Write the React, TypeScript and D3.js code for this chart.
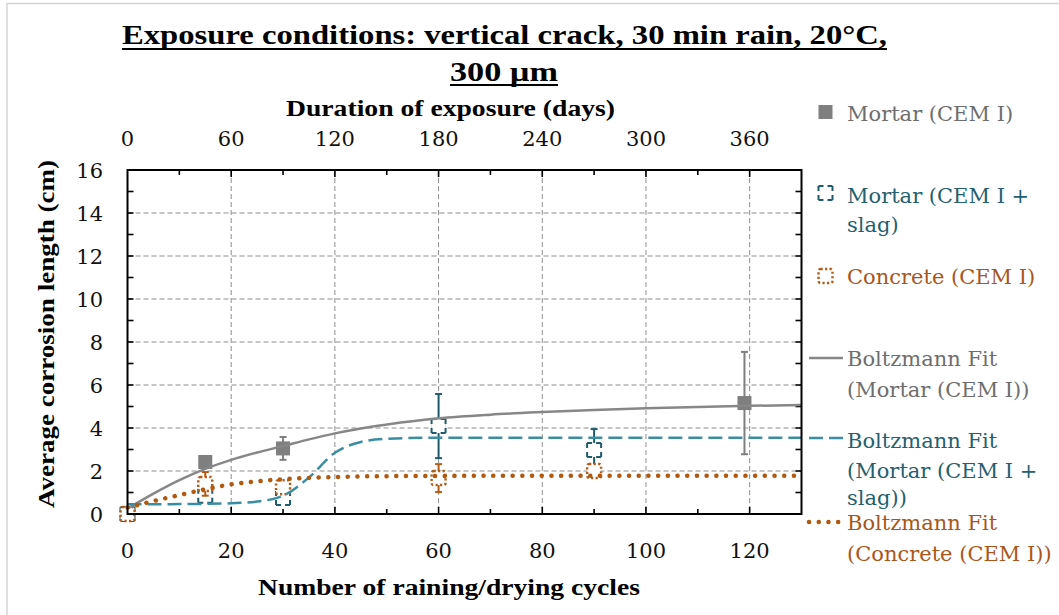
import React from "react";
import * as d3 from "d3";

// ---------- data ----------
const titleLines = ["Exposure conditions: vertical crack, 30 min rain, 20°C,", "300 µm"];
const xLabel = "Number of raining/drying cycles";
const xTopLabel = "Duration of exposure (days)";
const yLabel = "Average corrosion length (cm)";

const xTicks = [0, 20, 40, 60, 80, 100, 120];
const xTopTicks = [0, 60, 120, 180, 240, 300, 360];
const yTicks = [0, 2, 4, 6, 8, 10, 12, 14, 16];

const mortarX = [0, 15, 30, 60, 119];
const mortarY = [0, 2.42, 3.05, 4.1, 5.16];
const mortarErr = [0, 0, 0.53, 0, 2.38];

const slagX = [0, 15, 30, 60, 90];
const slagY = [0, 0.85, 0.75, 4.09, 2.98];
const slagErr = [0, 0, 0.25, 1.49, 0.97];

const concreteX = [0, 15, 30, 60, 90];
const concreteY = [0, 1.4, 1.25, 1.67, 2.0];
const concreteErr = [0, 0.55, 0, 0.65, 0];

const fitX = [0, 5, 10, 15, 20, 25, 30, 35, 40, 45, 50, 60, 70, 80, 90, 100, 110, 120, 130];
const mortarFit = [0.25, 0.95, 1.58, 2.1, 2.52, 2.86, 3.16, 3.47, 3.75, 3.98, 4.16, 4.45, 4.62, 4.74, 4.84, 4.92, 4.98, 5.03, 5.07];
const slagFit = [0.45, 0.45, 0.46, 0.47, 0.5, 0.58, 0.85, 1.7, 2.85, 3.35, 3.5, 3.55, 3.55, 3.55, 3.55, 3.55, 3.55, 3.55, 3.55];
const concreteFit = [0.3, 0.6, 0.88, 1.15, 1.38, 1.52, 1.62, 1.68, 1.72, 1.75, 1.76, 1.77, 1.78, 1.78, 1.78, 1.78, 1.78, 1.78, 1.78];

const legendMarkers = [
  { kind: "mortar", lines: ["Mortar (CEM I)"] },
  { kind: "slag", lines: ["Mortar (CEM I +", "slag)"] },
  { kind: "concrete", lines: ["Concrete (CEM I)"] },
];
const legendFits = [
  { kind: "mortar", lines: ["Boltzmann Fit", "(Mortar (CEM I))"] },
  { kind: "slag", lines: ["Boltzmann Fit", "(Mortar (CEM I +", "slag))"] },
  { kind: "concrete", lines: ["Boltzmann Fit", "(Concrete (CEM I))"] },
];

// ---------- styles ----------
const W = 1059;
const H = 615;
const C = {
  grayLine: "#878787",
  grayMarker: "#7f7f7f",
  grayText: "#6e6e6e",
  tealLine: "#3a8ea4",
  tealMarker: "#1f5b6b",
  tealText: "#25606f",
  orangeLine: "#b1590f",
  orangeMarker: "#b35c18",
  orangeText: "#a9561b",
  grid: "#8f8f8f",
};
const serifBold = "'Liberation Serif', 'Times New Roman', serif";
const serif = "'DejaVu Serif', serif";

const x = d3.scaleLinear().domain([0, 130]).range([127.5, 801.5]);
const xTop = d3.scaleLinear().domain([0, 390]).range([127.5, 801.5]);
const y = d3.scaleLinear().domain([0, 16]).range([514, 170]);

const MS = 14;

function Marker({ kind, cx, cy }: { kind: string; cx: number; cy: number }) {
  if (kind === "mortar") {
    return <rect x={cx - MS / 2} y={cy - MS / 2} width={MS} height={MS} fill={C.grayMarker} />;
  }
  if (kind === "slag") {
    return (
      <rect x={cx - MS / 2} y={cy - MS / 2} width={MS} height={MS} fill="#fff" stroke={C.tealMarker}
        strokeWidth={2} strokeDasharray="5 4 5 0" />
    );
  }
  return (
    <rect x={cx - MS / 2} y={cy - MS / 2} width={MS} height={MS} rx={2} fill="#fff" stroke={C.orangeMarker}
      strokeWidth={2.5} strokeDasharray="2.2 2.3" />
  );
}

function ErrBars({ xs, ys, es, color }: { xs: number[]; ys: number[]; es: number[]; color: string }) {
  return (
    <g stroke={color} strokeWidth={2}>
      {xs.map((xv, i) => {
        if (!es[i]) return null;
        const px = x(xv);
        const y1 = y(ys[i] + es[i]);
        const y2 = y(ys[i] - es[i]);
        return (
          <g key={i}>
            <line x1={px} x2={px} y1={y1} y2={y2} />
            <line x1={px - 3.5} x2={px + 3.5} y1={y1} y2={y1} />
            <line x1={px - 3.5} x2={px + 3.5} y1={y2} y2={y2} />
          </g>
        );
      })}
    </g>
  );
}

const lineGen = (vals: number[]) =>
  d3
    .line<number>()
    .x((_, i) => x(fitX[i]))
    .y((d) => y(d))
    .curve(d3.curveMonotoneX)(vals) || "";

const fitStyle: Record<string, any> = {
  mortar: { stroke: C.grayLine, strokeWidth: 2.5 },
  slag: { stroke: C.tealLine, strokeWidth: 2.5, strokeDasharray: "14 6" },
  concrete: { stroke: C.orangeLine, strokeWidth: 4.5, strokeDasharray: "0.1 9.6", strokeLinecap: "round" },
};
const textColor: Record<string, string> = { mortar: C.grayText, slag: C.tealText, concrete: C.orangeText };

export default function App() {
  const minorX = d3.range(10, 130, 10);
  const minorY = d3.range(1, 16, 1);
  const [x0, x1] = x.range();
  const [yb, yt] = y.range();

  const legMarkerY = [112, 193, 276];
  const legMarkerBase = [[121], [203, 232], [284]];
  const legFitY = [358, 438, 522];
  const legFitBase = [[366, 397], [448, 478, 505], [530, 561]];

  return (
    <svg width={W} height={H} style={{ position: "absolute", left: 0, top: 0, background: "#fff" }}>
      {/* outer frame */}
      <line x1={7} x2={W} y1={3.5} y2={3.5} stroke="#d4d4d4" strokeWidth={1.5} />
      <line x1={7} x2={7} y1={3} y2={H} stroke="#d4d4d4" strokeWidth={1.5} />

      {/* title */}
      <g fontFamily={serifBold} fontWeight="bold" fontSize={28} fill="#000">
        <text x={504.5} y={44} textAnchor="middle" textLength={765} lengthAdjust="spacingAndGlyphs">{titleLines[0]}</text>
        <line x1={122} x2={887} y1={49} y2={49} stroke="#000" strokeWidth={2} />
        <text x={504} y={81} textAnchor="middle" textLength={108} lengthAdjust="spacingAndGlyphs">{titleLines[1]}</text>
        <line x1={450} x2={558} y1={85} y2={85} stroke="#000" strokeWidth={2} />
      </g>

      {/* grid */}
      <g stroke={C.grid} strokeWidth={1} strokeDasharray="5 3">
        {xTicks.filter((t) => t > 0).map((t) => (
          <line key={"gx" + t} x1={x(t)} x2={x(t)} y1={yt} y2={yb} />
        ))}
        {yTicks.filter((t) => t > 0 && t < 16).map((t) => (
          <line key={"gy" + t} x1={x0} x2={x1} y1={y(t)} y2={y(t)} />
        ))}
      </g>

      {/* ticks */}
      <g stroke="#000" strokeWidth={1.6}>
        {minorX.map((t) => (
          <g key={"tx" + t}>
            <line x1={x(t)} x2={x(t)} y1={yb} y2={yb - (t % 20 === 0 ? 7 : 5)} />
            <line x1={x(t)} x2={x(t)} y1={yt} y2={yt + (t % 20 === 0 ? 7 : 5)} />
          </g>
        ))}
        {minorY.map((t) => (
          <g key={"ty" + t}>
            <line x1={x0} x2={x0 + 6} y1={y(t)} y2={y(t)} />
            <line x1={x1} x2={x1 - 6} y1={y(t)} y2={y(t)} />
          </g>
        ))}
      </g>

      {/* markers & error bars */}
      <ErrBars xs={mortarX} ys={mortarY} es={mortarErr} color={C.grayMarker} />
      {mortarX.map((v, i) => <Marker key={"m" + i} kind="mortar" cx={x(v)} cy={y(mortarY[i])} />)}
      <ErrBars xs={slagX} ys={slagY} es={slagErr} color={C.tealMarker} />
      {slagX.map((v, i) => <Marker key={"s" + i} kind="slag" cx={x(v)} cy={y(slagY[i])} />)}
      <ErrBars xs={concreteX} ys={concreteY} es={concreteErr} color={C.orangeMarker} />
      {concreteX.map((v, i) => <Marker key={"c" + i} kind="concrete" cx={x(v)} cy={y(concreteY[i])} />)}

      {/* fits */}
      <path d={lineGen(mortarFit)} fill="none" {...fitStyle.mortar} />
      <path d={lineGen(slagFit)} fill="none" {...fitStyle.slag} />
      <path d={lineGen(concreteFit)} fill="none" {...fitStyle.concrete} />

      {/* frame */}
      <rect x={x0} y={yt} width={x1 - x0} height={yb - yt} fill="none" stroke="#000" strokeWidth={2} />

      {/* tick labels */}
      <g fontFamily={serif} fontSize={21} fill="#111">
        {xTicks.map((t) => (
          <text key={"lx" + t} x={x(t)} y={558} textAnchor="middle">{t}</text>
        ))}
        {xTopTicks.map((t) => (
          <text key={"lt" + t} x={xTop(t)} y={146} textAnchor="middle">{t}</text>
        ))}
        {yTicks.map((t) => (
          <text key={"ly" + t} x={103} y={y(t)} dy="0.36em" textAnchor="end">{t}</text>
        ))}
      </g>

      {/* axis titles */}
      <g fontFamily={serifBold} fontWeight="bold" fontSize={24} fill="#000">
        <text x={450.5} y={116} textAnchor="middle" textLength={329} lengthAdjust="spacingAndGlyphs">{xTopLabel}</text>
        <text x={449} y={595} textAnchor="middle" textLength={382} lengthAdjust="spacingAndGlyphs">{xLabel}</text>
        <text transform="translate(54,334) rotate(-90)" textAnchor="middle" textLength={348} lengthAdjust="spacingAndGlyphs">{yLabel}</text>
      </g>

      {/* legend */}
      <g fontFamily={serif} fontSize={21}>
        {legendMarkers.map((l, i) => (
          <g key={"lm" + i}>
            <Marker kind={l.kind} cx={825.5} cy={legMarkerY[i]} />
            {l.lines.map((s, j) => (
              <text key={j} x={847} y={legMarkerBase[i][j]} fill={textColor[l.kind]}>{s}</text>
            ))}
          </g>
        ))}
        {legendFits.map((l, i) => (
          <g key={"lf" + i}>
            <line x1={809} x2={843} y1={legFitY[i]} y2={legFitY[i]} {...fitStyle[l.kind]} />
            {l.lines.map((s, j) => (
              <text key={j} x={847} y={legFitBase[i][j]} fill={textColor[l.kind]}>{s}</text>
            ))}
          </g>
        ))}
      </g>
    </svg>
  );
}
